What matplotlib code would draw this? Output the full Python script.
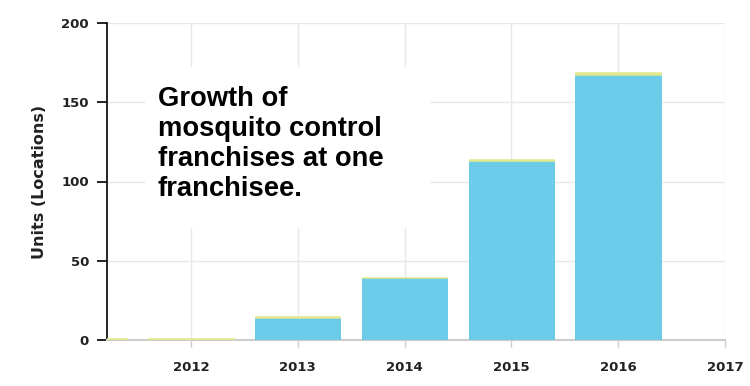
import matplotlib
matplotlib.use("Agg")
import matplotlib.pyplot as plt
from matplotlib.patches import Rectangle

years = [2011, 2012, 2013, 2014, 2015, 2016]
units_blue = [0, 0, 14, 39, 113, 167]
units_yellow = [1, 1, 1, 1, 1, 2]
xticks = [2012, 2013, 2014, 2015, 2016, 2017]
yticks = [0, 50, 100, 150, 200]
title_text = "Growth of\nmosquito control\nfranchises at one\nfranchisee."

fig = plt.figure(figsize=(7.5, 3.86), dpi=100)
ax = fig.add_axes([107/750, 1-340/386, (725-107)/750, (340-23)/386])

ax.bar(years, units_blue, width=0.8, color="#6ccbe8", edgecolor="#5cc5e7",
       linewidth=0.6, zorder=3)
ax.bar(years, units_yellow, width=0.8, bottom=units_blue, color="#e3e98a",
       edgecolor="#e3e98a", linewidth=0.4, zorder=4)

ax.set_xlim(2011.215, 2017)
ax.set_ylim(0, 200)
ax.set_xticks(xticks)
ax.set_yticks(yticks)
ax.grid(True, color="#e8e8e8", linewidth=1.0, zorder=0)

for s in ["top", "right"]:
    ax.spines[s].set_visible(False)
ax.spines["left"].set_color("black")
ax.spines["left"].set_linewidth(1.2)
ax.spines["bottom"].set_color("#cccccc")
ax.spines["bottom"].set_linewidth(1.5)

ax.tick_params(axis="y", length=7, width=1.2, color="black", pad=6,
               labelsize=9.5, labelcolor="#222222")
ax.tick_params(axis="x", length=5, width=1, color="#cccccc", pad=10,
               labelsize=9.5, labelcolor="#222222")
for lab in ax.get_xticklabels() + ax.get_yticklabels():
    lab.set_fontweight("bold")
    lab.set_family("DejaVu Sans")

ax.set_ylabel("Units (Locations)", fontsize=11.5, fontweight="bold",
              color="#222222", labelpad=10)

# white box behind annotation
fig.patches.append(Rectangle((145/750, 1-228/386), (430-145)/750, (228-67)/386,
                             transform=fig.transFigure, facecolor="white",
                             edgecolor="none", zorder=2))
fig.text(158/750, 1-86/386, title_text, family="Liberation Sans",
         fontweight="bold", fontsize=19.7, va="top", ha="left",
         linespacing=1.2, color="black", zorder=5)

fig.savefig("out.png", dpi=100)
